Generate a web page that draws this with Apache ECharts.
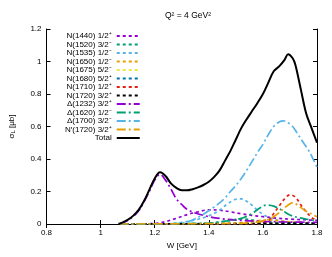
<!DOCTYPE html>
<html><head><meta charset="utf-8">
<script src="https://cdn.jsdelivr.net/npm/echarts@6/dist/echarts.min.js"></script>
<style>html,body{margin:0;padding:0;background:#fff}#c{width:332px;height:257px}</style>
</head><body><div id="c"></div>
<script>
// x-axis ticks (W in GeV) and y-axis ticks (sigma_L in microbarn)
const xTicks = [0.8, 1.0, 1.2, 1.4, 1.6, 1.8];
const yTicks = [0, 0.2, 0.4, 0.6, 0.8, 1.0, 1.2];

// Resonance names as shown in the legend
const names = [
  'N(1440) 1/2⁺','N(1520) 3/2⁻','N(1535) 1/2⁻','N(1650) 1/2⁻','N(1675) 5/2⁻',
  'N(1680) 5/2⁺','N(1710) 1/2⁺','N(1720) 3/2⁺','Δ(1232) 3/2⁺','Δ(1620) 1/2⁻',
  'Δ(1700) 3/2⁻','N′(1720) 3/2⁺','Total'
];

// Data: [W, sigma_L]
const N1440 = [[1.07,0],[1.20,0.003],[1.24,0.015],[1.28,0.035],[1.32,0.058],[1.36,0.075],[1.40,0.087],[1.44,0.085],[1.48,0.075],[1.52,0.063],[1.56,0.053],[1.60,0.045],[1.65,0.036],[1.70,0.03],[1.75,0.026],[1.80,0.022]];
const N1520 = [[1.07,0],[1.35,0.002],[1.42,0.008],[1.47,0.02],[1.50,0.028],[1.53,0.03],[1.57,0.022],[1.62,0.012],[1.70,0.006],[1.80,0.003]];
const N1535 = [[1.07,0],[1.26,0.002],[1.30,0.01],[1.35,0.025],[1.40,0.05],[1.44,0.085],[1.47,0.125],[1.50,0.152],[1.52,0.155],[1.54,0.14],[1.56,0.115],[1.58,0.085],[1.60,0.06],[1.63,0.035],[1.67,0.018],[1.72,0.01],[1.80,0.005]];
const N1650 = [[1.07,0],[1.45,0.002],[1.52,0.008],[1.58,0.02],[1.62,0.025],[1.66,0.02],[1.72,0.01],[1.80,0.005]];
const N1675 = [[1.07,0],[1.50,0.001],[1.60,0.004],[1.68,0.006],[1.80,0.004]];
const N1680 = [[1.07,0],[1.50,0.001],[1.65,0.004],[1.70,0.006],[1.80,0.004]];
const N1710 = [[1.07,0],[1.58,0.001],[1.60,0.005],[1.62,0.02],[1.64,0.065],[1.66,0.11],[1.68,0.155],[1.70,0.18],[1.72,0.165],[1.74,0.118],[1.76,0.075],[1.78,0.04],[1.80,0.02]];
const N1720 = [[1.07,0],[1.50,0.002],[1.70,0.005],[1.80,0.004]];
const D1232 = [[1.07,0],[1.08,0.006],[1.10,0.022],[1.12,0.045],[1.14,0.08],[1.16,0.135],[1.18,0.2],[1.20,0.27],[1.22,0.305],[1.24,0.27],[1.26,0.215],[1.28,0.155],[1.30,0.12],[1.32,0.09],[1.35,0.068],[1.40,0.045],[1.45,0.032],[1.50,0.024],[1.60,0.016],[1.70,0.012],[1.80,0.01]];
const D1620 = [[1.07,0],[1.40,0.005],[1.45,0.015],[1.50,0.027],[1.53,0.04],[1.56,0.065],[1.59,0.1],[1.615,0.117],[1.64,0.11],[1.67,0.085],[1.70,0.055],[1.73,0.04],[1.76,0.03],[1.80,0.02]];
const D1700 = [[1.07,0],[1.26,0.001],[1.30,0.005],[1.34,0.025],[1.38,0.06],[1.42,0.105],[1.44,0.13],[1.46,0.16],[1.48,0.2],[1.50,0.237],[1.52,0.28],[1.54,0.33],[1.56,0.385],[1.58,0.44],[1.60,0.49],[1.62,0.55],[1.64,0.6],[1.66,0.628],[1.675,0.635],[1.69,0.625],[1.71,0.6],[1.73,0.55],[1.75,0.5],[1.77,0.45],[1.79,0.385],[1.80,0.35]];
const Np1720 = [[1.07,0],[1.55,0.005],[1.59,0.015],[1.62,0.028],[1.64,0.045],[1.66,0.07],[1.68,0.1],[1.70,0.125],[1.71,0.13],[1.73,0.115],[1.75,0.09],[1.77,0.07],[1.80,0.045]];
const Total = [[1.066,0],[1.08,0.008],[1.10,0.025],[1.12,0.05],[1.14,0.085],[1.16,0.14],[1.18,0.21],[1.20,0.28],[1.22,0.318],[1.24,0.295],[1.26,0.25],[1.28,0.222],[1.30,0.207],[1.32,0.207],[1.34,0.214],[1.36,0.225],[1.38,0.24],[1.40,0.26],[1.42,0.29],[1.44,0.33],[1.46,0.39],[1.48,0.45],[1.50,0.52],[1.52,0.59],[1.54,0.645],[1.56,0.695],[1.58,0.745],[1.60,0.80],[1.62,0.87],[1.64,0.94],[1.66,0.97],[1.68,1.01],[1.693,1.045],[1.71,1.02],[1.72,0.98],[1.74,0.83],[1.76,0.68],[1.78,0.59],[1.80,0.50]];

const seriesData = [N1440,N1520,N1535,N1650,N1675,N1680,N1710,N1720,D1232,D1620,D1700,Np1720,Total];
const colors = ['#9400d3','#009e73','#56b4e9','#e69f00','#f0e442','#0072b2','#e51e10','#000000','#9400d3','#009e73','#56b4e9','#e69f00','#000000'];
const dotted = [3,3];
const dashDot = [9,3,2,3];
const dashes = [dotted,dotted,dotted,dotted,dotted,dotted,dotted,dotted,dashDot,dashDot,dashDot,dashDot,'solid'];

const chart = echarts.init(document.getElementById('c'), null, {renderer:'canvas'});
const font = 'Liberation Sans, Arial, sans-serif';
const series = seriesData.map((d,i)=>({
  name: names[i], type:'line', data:d, smooth:0.35, showSymbol:false, symbol:'none',
  xAxisIndex:0, yAxisIndex:0, z: i===12?5:2,
  lineStyle:{color:colors[i], width: i===12?2:1.7, type:dashes[i]},
  itemStyle:{color:colors[i]}, animation:false
}));
const axisCommon = {
  type:'value', axisLine:{show:true, lineStyle:{color:'#000', width:1}},
  axisTick:{show:true, inside:true, length:4, lineStyle:{color:'#000'}},
  splitLine:{show:false}
};
chart.setOption({
  animation:false,
  title:{text:'Q² = 4 GeV²', left:183, textAlign:'center', top:6,
    textStyle:{fontSize:8.5, fontWeight:'normal', color:'#000', fontFamily:font}},
  grid:{left:46, right:15, top:29, bottom:33},
  legend:{
    orient:'vertical', align:'right', left:60, top:27, itemWidth:23, itemHeight:6, itemGap:0.5,
    itemStyle:{opacity:0},
    textStyle:{fontSize:8, color:'#000', fontFamily:font, lineHeight:7.5, padding:[0,0,0,0]},
    data: names
  },
  xAxis:[
    Object.assign({}, axisCommon, {min:xTicks[0], max:xTicks[xTicks.length-1], interval:0.2, position:'bottom',
      name:'W [GeV]', nameLocation:'middle', nameGap:16,
      nameTextStyle:{fontSize:8, color:'#000', fontFamily:font},
      axisLabel:{fontSize:8, color:'#000', margin:5, fontFamily:font}}),
    Object.assign({}, axisCommon, {min:xTicks[0], max:xTicks[xTicks.length-1], interval:0.2, position:'top',
      axisLabel:{show:false}})
  ],
  yAxis:[
    Object.assign({}, axisCommon, {min:yTicks[0], max:yTicks[yTicks.length-1], interval:0.2, position:'left',
      name:'{s|σ}{sub|L} [μb]', nameLocation:'middle', nameGap:30, nameRotate:90,
      nameTextStyle:{fontSize:8, color:'#000', fontFamily:font,
        rich:{s:{fontSize:8, fontFamily:font, color:'#000'}, sub:{fontSize:6, fontFamily:font, color:'#000', padding:[3,0,0,0]}}},
      axisLabel:{fontSize:8, color:'#000', margin:5, fontFamily:font}}),
    Object.assign({}, axisCommon, {min:yTicks[0], max:yTicks[yTicks.length-1], interval:0.2, position:'right',
      axisLabel:{show:false}})
  ],
  series: series
});
</script></body></html>
